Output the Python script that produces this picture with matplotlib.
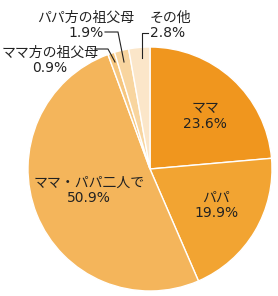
import matplotlib
matplotlib.use('Agg')

import matplotlib.pyplot as plt

plt.rcParams['font.family'] = ['DejaVu Sans', 'Noto Sans CJK JP']

# Datos
etiquetas = ['ママ', 'パパ', 'ママ・パパ二人で', 'ママ方の祖父母', 'パパ方の祖父母', 'その他']
valores = [23.6, 19.9, 50.9, 0.9, 1.9, 2.8]
colores = ['#F0961E', '#F2A432', '#F4B55B', '#F6C67E', '#F8D59F', '#FBE6C9']

W, H = 278, 296


def px(x, y):
    # coordenadas de imagen -> coordenadas de datos
    return x, H - y


fig = plt.figure(figsize=(W / 100, H / 100), dpi=100)
ax = fig.add_axes([0, 0, 1, 1])

ax.pie(valores, colors=colores, startangle=90, counterclock=False,
       center=px(150, 169), radius=122,
       wedgeprops=dict(edgecolor='white', linewidth=1.0))

ax.set_xlim(0, W)
ax.set_ylim(0, H)
ax.set_aspect('equal')
ax.axis('off')

fs = 10
# etiquetas internas
dentro = {0: (205, 116), 1: (216, 205), 2: (89, 190)}
for i, (x, y) in dentro.items():
    ax.text(*px(x, y), f"{etiquetas[i]}\n{valores[i]}%", ha='center', va='center',
            fontsize=fs, linespacing=1.1, color='#222222')

# etiquetas externas con líneas guía
fuera = {3: (50, 60), 4: (86, 25), 5: (150, 25)}
for i, (x, y) in fuera.items():
    ha = 'left' if i == 5 else 'center'
    ax.text(*px(x, y), f"{etiquetas[i]}\n{valores[i]}%", ha=ha, va='center',
            fontsize=fs, linespacing=1.1, color='#222222')

lineas = [
    [(95, 49), (108, 49), (115, 62)],
    [(105, 32), (118, 32), (124, 62)],
    [(148, 33), (142, 33), (142, 58)],
]
for pts in lineas:
    xs = [p[0] for p in pts]
    ys = [H - p[1] for p in pts]
    ax.plot(xs, ys, color='#222222', linewidth=0.8)

fig.savefig('out.png', dpi=100)
